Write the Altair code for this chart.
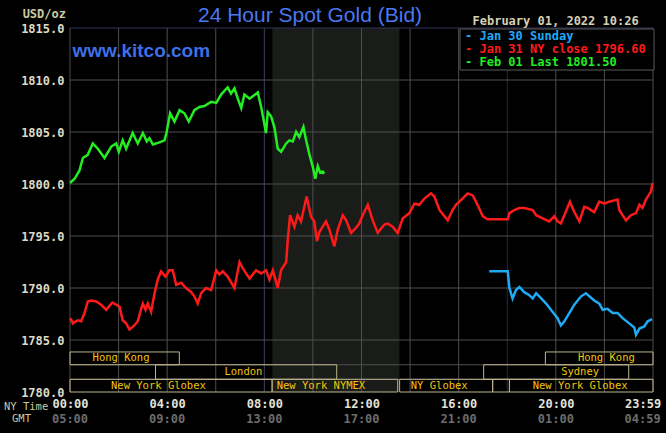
import altair as alt
import pandas as pd

# ---------------- data (hours after 00:00 NY time, USD/oz) ----------------
feb01_h = [0.0, 0.19, 0.39, 0.53, 0.73, 0.94, 1.14, 1.42, 1.70, 1.90, 2.01, 2.17, 2.31, 2.58, 2.79, 3.00,
           3.16, 3.27, 3.41, 3.68, 3.89, 3.98, 4.12, 4.30, 4.51, 4.71, 4.89, 5.12, 5.33, 5.53, 5.81, 6.02,
           6.22, 6.49, 6.63, 6.77, 6.91, 7.05, 7.18, 7.39, 7.73, 7.87, 8.00, 8.07, 8.14, 8.28, 8.42, 8.55,
           8.69, 8.90, 9.03, 9.17, 9.31, 9.44, 9.61, 9.72, 9.86, 9.99, 10.10, 10.20, 10.30, 10.40, 10.47]
feb01_p = [1800.1, 1800.5, 1801.3, 1802.5, 1802.8, 1803.9, 1803.4, 1802.5, 1803.6, 1803.9, 1803.1, 1804.2,
           1803.4, 1804.9, 1803.9, 1804.9, 1804.1, 1804.4, 1803.8, 1804.0, 1804.2, 1805.0, 1806.8, 1806.0,
           1807.1, 1806.8, 1806.0, 1807.1, 1807.4, 1807.5, 1807.9, 1807.8, 1808.6, 1809.3, 1808.7, 1809.2,
           1808.2, 1807.3, 1808.6, 1808.2, 1808.8, 1807.4, 1805.8, 1804.9, 1806.9, 1806.5, 1805.4, 1803.4,
           1803.1, 1803.9, 1804.2, 1804.1, 1805.0, 1804.5, 1805.5, 1804.2, 1802.8, 1801.7, 1800.5, 1801.7,
           1801.1, 1801.2, 1801.0]

jan31_h = [0.01, 0.12, 0.32, 0.46, 0.60, 0.73, 0.87, 1.08, 1.28, 1.49,
           1.74, 1.90, 2.04, 2.17, 2.31, 2.45, 2.65, 2.79, 2.93, 3.00,
           3.11, 3.20, 3.34, 3.48, 3.61, 3.75, 3.93, 4.09, 4.23, 4.37,
           4.58, 4.78, 4.99, 5.12, 5.26, 5.40, 5.60, 5.81, 6.02, 6.15,
           6.29, 6.49, 6.77, 6.98, 7.11, 7.39, 7.66, 7.87, 8.07, 8.21,
           8.35, 8.55, 8.69, 8.90, 8.96, 9.06, 9.24, 9.37, 9.51, 9.74,
           9.93, 10.06, 10.16, 10.27, 10.54, 10.68, 10.88, 11.02, 11.23, 11.37,
           11.57, 11.78, 11.91, 12.05, 12.26, 12.46, 12.67, 12.94, 13.08, 13.28,
           13.49, 13.70, 13.97, 14.18, 14.38, 14.59, 14.86, 15.00, 15.21, 15.55,
           15.75, 15.89, 16.03, 16.16, 16.37, 16.58, 16.78, 16.99, 17.19, 18.02,
           18.09, 18.29, 18.50, 18.70, 19.05, 19.19, 19.46, 19.73, 19.94, 20.07,
           20.21, 20.35, 20.58, 20.76, 20.97, 21.17, 21.31, 21.58, 21.79, 22.00,
           22.20, 22.54, 22.61, 22.89, 23.09, 23.30, 23.44, 23.57, 23.71, 23.92,
           23.98]
jan31_p = [1787.1, 1786.6, 1786.9, 1786.8, 1787.6, 1788.7, 1788.8, 1788.7, 1788.4, 1787.9,
           1788.6, 1788.4, 1788.2, 1786.9, 1786.6, 1786.0, 1786.4, 1786.8, 1788.0, 1788.5,
           1787.9, 1788.5, 1787.7, 1789.5, 1790.8, 1791.6, 1791.1, 1791.7, 1791.7, 1790.3,
           1790.5, 1790.0, 1789.6, 1789.2, 1788.5, 1789.5, 1790.0, 1789.8, 1791.7, 1791.3,
           1791.6, 1791.1, 1790.0, 1792.5, 1791.9, 1790.9, 1791.7, 1791.4, 1791.7, 1790.8,
           1791.7, 1790.0, 1791.7, 1792.5, 1794.5, 1797.0, 1795.9, 1797.0, 1796.4, 1798.8,
           1796.8, 1796.4, 1794.5, 1795.4, 1796.4, 1795.6, 1794.0, 1795.6, 1797.0, 1796.5,
           1795.3, 1795.8, 1796.2, 1797.0, 1798.0, 1796.5, 1795.3, 1796.1, 1796.2, 1795.9,
           1795.3, 1796.7, 1797.2, 1798.1, 1798.0, 1798.6, 1799.1, 1798.8, 1797.5, 1796.5,
           1797.5, 1798.0, 1798.3, 1798.6, 1799.1, 1798.9, 1798.0, 1796.9, 1796.6, 1796.6,
           1797.2, 1797.5, 1797.7, 1797.7, 1797.5, 1797.0, 1796.7, 1796.4, 1796.9, 1796.4,
           1796.2, 1797.0, 1798.3, 1797.3, 1796.4, 1797.8, 1797.7, 1797.3, 1798.3, 1798.1,
           1798.3, 1798.5, 1797.5, 1796.5, 1797.0, 1797.2, 1798.0, 1797.7, 1798.5, 1799.3,
           1800.1]

jan30_h = [17.26, 18.02, 18.09, 18.22, 18.36, 18.50, 18.70, 18.91, 19.05, 19.19,
           19.32, 19.60, 19.87, 20.07, 20.21, 20.35, 20.56, 20.76, 21.04, 21.24,
           21.38, 21.58, 21.79, 21.93, 22.13, 22.34, 22.54, 22.75, 23.02, 23.23,
           23.30, 23.44, 23.64, 23.78, 23.96]
jan30_p = [1791.6, 1791.6, 1790.0, 1789.0, 1789.8, 1790.1, 1789.6, 1789.3, 1789.0, 1789.5,
           1789.2, 1788.5, 1787.7, 1787.1, 1786.4, 1786.8, 1787.6, 1788.4, 1789.2, 1789.5,
           1789.2, 1788.8, 1788.5, 1787.9, 1788.0, 1787.6, 1787.6, 1787.1, 1786.6, 1786.2,
           1785.5, 1786.1, 1786.3, 1786.8, 1787.0]

series_names = ["Jan 30 Sunday", "Jan 31 NY close 1796.60", "Feb 01 Last 1801.50"]
series_colors = ["#1eaaf5", "#ff1a1a", "#22ee22"]

y_ticks = [1780, 1785, 1790, 1795, 1800, 1805, 1810, 1815]
tick_hours = [0, 4, 8, 12, 16, 20, 23.983]
ny_labels = ["00:00", "04:00", "08:00", "12:00", "16:00", "20:00", "23:59"]
gmt_labels = ["05:00", "09:00", "13:00", "17:00", "21:00", "01:00", "04:59"]
grid_hours = [0, 2, 4, 6, 8, 10, 12, 14, 16, 18, 20, 22, 24]
grid_prices = [1785, 1790, 1795, 1800, 1805, 1810]

session_names = ["Hong Kong", "London", "New York Globex", "New York NYMEX", "NY Globex", "",
                 "Sydney", "Hong Kong", "New York Globex"]
session_start = [0.0, 3.52, 0.0, 8.32, 13.57, 17.40, 17.03, 19.57, 18.09]
session_end = [4.50, 10.98, 8.32, 13.49, 17.40, 18.09, 23.00, 24.0, 24.0]
session_row = [0, 1, 2, 2, 2, 2, 1, 0, 2]
session_label_h = [2.10, 7.14, 3.64, 10.33, 15.20, 17.75, 21.00, 22.08, 21.00]

nymex_start, nymex_end = 8.33, 13.56

title_text = "24 Hour Spot Gold (Bid)"
site_text = "www.kitco.com"
date_text = "February 01, 2022 10:26"

# ---------------- layout / style ----------------
W, H = 583, 364
MONO = "DejaVu Sans Mono"
row_top = [1783.85, 1782.62, 1781.22]
row_bot = [1782.62, 1781.22, 1780.0]

xs = alt.Scale(domain=[0, 24], nice=False, zero=False)
ys = alt.Scale(domain=[1780, 1815], nice=False, zero=False)

rows = []
for name, hh, pp in zip(series_names, [jan30_h, jan31_h, feb01_h], [jan30_p, jan31_p, feb01_p]):
    for i, (h, p) in enumerate(zip(hh, pp)):
        rows.append({"h": h, "p": p, "s": name, "o": i})
lines_df = pd.DataFrame(rows)

expr = "''"
for h, lab in reversed(list(zip(tick_hours, ny_labels))):
    expr = f"abs(datum.value - {h}) < 0.01 ? '{lab}' : ({expr})"

x_axis = alt.Axis(values=tick_hours, labelExpr=expr, title=None, grid=False, ticks=False,
                  domain=False, labelFont=MONO, labelFontSize=12, labelFontWeight="bold",
                  labelColor="#e2e2da", labelPadding=6, labelFlush=False, labelOverlap=False,
                  labelOffset={"condition": {"test": "datum.value > 23", "value": -10}, "value": 0})
y_axis = alt.Axis(values=y_ticks, format=".1f", title=None, grid=False, ticks=False, domain=False,
                  labelFont=MONO, labelFontSize=12, labelFontWeight="bold", labelColor="#dcdac4",
                  labelPadding=6, labelOverlap=False, labelFlush=False)


def X(f):
    return alt.X(f, scale=xs, axis=x_axis)


def Y(f):
    return alt.Y(f, scale=ys, axis=y_axis)


one = pd.DataFrame({"a": [0]})

shade = alt.Chart(pd.DataFrame({"s": [nymex_start], "e": [nymex_end]})).mark_rect(
    color="#191c19").encode(x=X("s:Q"), x2="e:Q", y=alt.value(0), y2=alt.value(H))

vcol = ["#4e4e4e" if h not in (8, 18) else ("#3c4262" if h == 8 else "#262a50") for h in grid_hours]
vgrid = alt.Chart(pd.DataFrame({"h": grid_hours, "c": vcol})).mark_rule(strokeWidth=1).encode(
    x=X("h:Q"), color=alt.Color("c:N", scale=None), y=alt.value(0), y2=alt.value(H))

hp = grid_prices + [row_top[1], row_top[2]]
hgrid = alt.Chart(pd.DataFrame({"p": hp})).mark_rule(strokeWidth=1, color="#4e4e4e").encode(
    y=Y("p:Q"), x=alt.value(0), x2=alt.value(W))
topline = alt.Chart(pd.DataFrame({"p": [1815]})).mark_rule(strokeWidth=1, color="#30355a").encode(
    y=Y("p:Q"), x=alt.value(0), x2=alt.value(W))

sess_df = pd.DataFrame({
    "n": session_names, "s": session_start, "e": session_end,
    "top": [row_top[r] for r in session_row], "bot": [row_bot[r] for r in session_row],
    "mid": [(row_top[r] + row_bot[r]) / 2 for r in session_row], "lh": session_label_h})
sess_box = alt.Chart(sess_df).mark_rect(fillOpacity=0, stroke="#bdb58a", strokeWidth=1).encode(
    x=X("s:Q"), x2="e:Q", y=Y("top:Q"), y2="bot:Q")
sess_txt = alt.Chart(sess_df).mark_text(font=MONO, fontSize=10.5, color="#f2c40c",
                                        align="center", baseline="middle").encode(
    x=X("lh:Q"), y=Y("mid:Q"), text="n:N")

lines = alt.Chart(lines_df).mark_line(strokeWidth=2.5, interpolate="linear").encode(
    x=X("h:Q"), y=Y("p:Q"),
    color=alt.Color("s:N", scale=alt.Scale(domain=series_names, range=series_colors), legend=None),
    detail="s:N",
    order="o:Q")

legend_box = alt.Chart(one).mark_rect(fill="#000000", stroke="#5a5a5a", strokeWidth=1).encode(
    x=alt.value(390), x2=alt.value(584), y=alt.value(1), y2=alt.value(42))
legend_rows = []
for i, (name, col) in enumerate(zip(series_names, series_colors)):
    legend_rows.append(alt.Chart(one).mark_text(
        font=MONO, fontSize=12, fontWeight="bold", align="left", baseline="middle", color=col).encode(
        x=alt.value(395), y=alt.value(7.5 + 13.1 * i), text=alt.value("- " + name)))

gmt_df = pd.DataFrame({"h": tick_hours[:-1], "t": gmt_labels[:-1]})
gmt_txt = alt.Chart(gmt_df).mark_text(font=MONO, fontSize=12, fontWeight="bold", color="#6c6c6c",
                                      align="center", baseline="middle").encode(
    x=X("h:Q"), y=alt.value(H + 27), text="t:N")
gmt_last = alt.Chart(pd.DataFrame({"h": tick_hours[-1:], "t": gmt_labels[-1:]})).mark_text(
    font=MONO, fontSize=12, fontWeight="bold", color="#6c6c6c", align="center", baseline="middle",
    dx=-10).encode(x=X("h:Q"), y=alt.value(H + 27), text="t:N")


def label(txt, x, y, **kw):
    return alt.Chart(one).mark_text(**kw).encode(x=alt.value(x), y=alt.value(y), text=alt.value(txt))


title = label(title_text, 240, -6, font="Liberation Sans", fontSize=21, color="#4a78f0",
              align="center", baseline="alphabetic")
site = label(site_text, 2.5, 29.3, font="Liberation Sans", fontSize=19, fontWeight="bold",
             color="#3f6fe8", align="left", baseline="alphabetic")
date = label(date_text, 402.5, -6.7, font=MONO, fontSize=12, fontWeight="bold", color="#d4d0b4",
             align="left", baseline="middle")
unit = label("USD/oz", -4, -14.3, font=MONO, fontSize=12, fontWeight="bold", color="#cdc9a0",
             align="right", baseline="middle")
nyt = label("NY Time", -66, H + 15, font=MONO, fontSize=10.5, color="#cdc9a0",
            align="left", baseline="middle")
gmt = label("GMT", -58, H + 27.2, font=MONO, fontSize=10.5, color="#cdc9a0",
            align="left", baseline="middle")

chart = alt.layer(
    shade, vgrid, hgrid, topline, sess_box, sess_txt, legend_box, lines,
    *legend_rows, gmt_txt, gmt_last, title, site, date, unit, nyt, gmt
).properties(
    width=W, height=H,
    autosize=alt.AutoSizeParams(type="none"),
    padding={"left": 70, "top": 28, "right": 13, "bottom": 41},
    background="#000000",
).configure_view(strokeWidth=0)

chart.save("out.html", embed_options={"renderer": "svg", "actions": False})
